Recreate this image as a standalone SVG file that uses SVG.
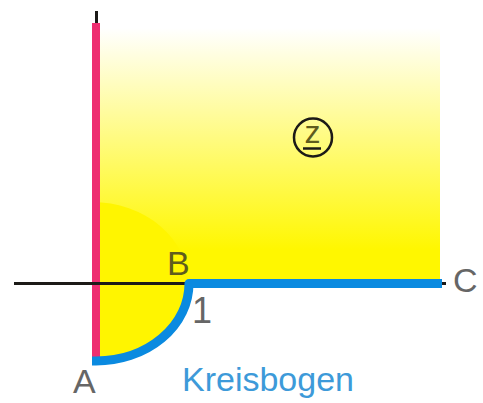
<svg xmlns="http://www.w3.org/2000/svg" width="483" height="403" viewBox="0 0 483 403">
<defs>
<linearGradient id="bg" x1="0" y1="28" x2="0" y2="250" gradientUnits="userSpaceOnUse">
<stop offset="0" stop-color="#ffffff"/>
<stop offset="1" stop-color="#fff700"/>
</linearGradient>
<style>
.lbl{font-family:"Liberation Sans",Arial,sans-serif;font-size:34px;fill:#666666}
.olive{fill:#5f5c1e}
.axis{stroke:#1c1a17;stroke-width:3;fill:none}
</style>
</defs>
<g id="region">
<rect x="96" y="28" width="344" height="255" fill="url(#bg)"/>
<path d="M92,202 A96,81 0 0 1 188,283.5 A96,77.5 0 0 1 92,361 Z" fill="#fff500"/>
</g>
<g id="connectors">
<line class="axis" x1="96.5" y1="11" x2="96.5" y2="40"/>
<rect x="92" y="23" width="8" height="334" fill="#ee2e70"/>
<line class="axis" x1="14" y1="283.5" x2="446" y2="283.5"/>
<path d="M442,283.5 H189 A93,77.5 0 0 1 96,361 H92" fill="none" stroke="#0a8ae0" stroke-width="9" stroke-linejoin="round"/>
</g>
<g id="z">
<circle cx="313" cy="137.5" r="19" fill="none" stroke="#1c1a17" stroke-width="2.5"/>
<text x="312.5" y="143" class="lbl olive" text-anchor="middle" style="font-size:32px">z</text>
<line x1="303" y1="148.5" x2="321" y2="148.5" stroke="#1c1a17" stroke-width="2.5"/>
</g>
<g id="A"><text class="lbl" x="73" y="393">A</text></g>
<g id="B"><text class="lbl olive" x="167" y="275">B</text></g>
<g id="one"><text class="lbl" x="192" y="323" style="font-size:36px">1</text></g>
<g id="C"><text class="lbl" x="453" y="292">C</text></g>
<g id="label"><text class="lbl" x="182" y="391" style="fill:#3d9ad9">Kreisbogen</text></g>
</svg>
